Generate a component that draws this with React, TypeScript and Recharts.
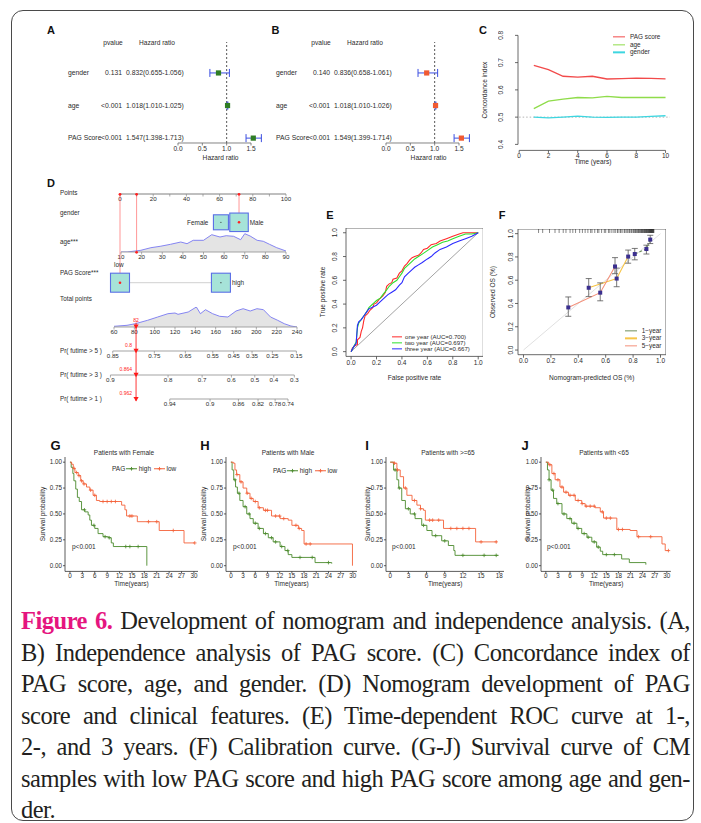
import React from "react";
import {
  ComposedChart,
  Line,
  Scatter,
  Area,
  XAxis,
  YAxis,
  ReferenceLine,
  ReferenceArea,
  ErrorBar,
} from "recharts";

const SANS = '"Liberation Sans", Arial, Helvetica, sans-serif';
const SERIF = '"Liberation Serif", "Times New Roman", Times, serif';
const INK = "#2b2b2b";
const FS = 6.5;

// ---------------- A / B : forest plots ----------------
const forestVars = ["gender", "age", "PAG Score"];
const forestRows = [3, 2, 1];
const hrTicks = [0, 0.5, 1, 1.5];
const aP = ["0.131", "<0.001", "<0.001"];
const aHR = [0.832, 1.018, 1.547];
const aLo = [0.655, 1.01, 1.398];
const aHi = [1.056, 1.025, 1.713];
const bP = ["0.140", "<0.001", "<0.001"];
const bHR = [0.836, 1.018, 1.549];
const bLo = [0.658, 1.01, 1.399];
const bHi = [1.061, 1.026, 1.714];

// ---------------- C : concordance index ----------------
const cYears = [1, 2, 3, 4, 5, 6, 7, 8, 9, 10];
const cPag = [0.69, 0.674, 0.65, 0.647, 0.65, 0.64, 0.641, 0.643, 0.642, 0.64];
const cAge = [0.531, 0.559, 0.566, 0.572, 0.571, 0.576, 0.572, 0.572, 0.572, 0.572];
const cGender = [0.5, 0.497, 0.5, 0.504, 0.5, 0.499, 0.5, 0.5, 0.503, 0.505];
const cNames = ["PAG score", "age", "gender"];
const cColors = ["#f24a4a", "#8fdc4a", "#3ed6e0"];
const cXTicks = [0, 2, 4, 6, 8, 10];
const cYTicks = [0.4, 0.5, 0.6, 0.7, 0.8];

// ---------------- D : nomogram ----------------
const pointsTicks = [0, 10, 20, 30, 40, 50, 60, 70, 80, 90, 100];
const ageTicks = [10, 20, 30, 40, 50, 60, 70, 80, 90];
const totalTicks = [60, 80, 100, 120, 140, 160, 180, 200, 220, 240];
const genderLevels = ["Female", "Male"];
const genderPoints = [60.8, 71.7];
const pagLevels = ["low", "high"];
const pagPoints = [0, 60.8];
const ageDensX = [10, 13, 19.6, 24.5, 29, 34, 39, 42, 45, 50, 54, 58, 61, 64.6, 68, 70, 72.6, 76, 79, 82, 85.5, 90];
const ageDensY = [0, 0, 1.7, 4.3, 5.7, 7.7, 10, 8.3, 11.7, 11.7, 17.3, 15, 16.3, 15.7, 12.3, 18.3, 16, 11.7, 10.7, 7.7, 4.3, 1];
const totDensX = [60, 72.8, 81, 93, 103, 113, 120, 123, 133, 141, 145, 150, 157, 164, 172, 180, 187, 194, 200.6, 207, 214, 221, 227.5, 234, 240];
const totDensY = [0.7, 1.7, 3.3, 6.7, 10, 13.3, 14, 12.7, 15, 20, 13.3, 17.3, 13.3, 10.7, 10, 16, 18.3, 16, 18.3, 17.3, 10, 6.7, 3.3, 1, 0];
const pr5Labels = ["0.85", "0.75", "0.65", "0.55", "0.45", "0.35", "0.25", "0.15"];
const pr5Pos = [58.7, 99.6, 130.1, 157.1, 177.7, 195.7, 215.7, 239.3];
const pr3Labels = ["0.9", "0.8", "0.7", "0.6", "0.5", "0.4", "0.3"];
const pr3Pos = [56.4, 113.1, 146.6, 175.4, 198.4, 217.1, 237.3];
const pr1Labels = ["0.94", "0.9", "0.86", "0.82", "0.78", "0.74"];
const pr1Pos = [114.8, 154.4, 182.3, 201.6, 218.4, 231.1];
const patientPag = "low";
const patientAge = 18;
const patientGender = "Male";
const patientPred = ["0.8", "0.864", "0.962"];

// ---------------- E : ROC ----------------
const rocOne = [[0,0],[0.01,0.03],[0.03,0.05],[0.05,0.06],[0.05,0.1],[0.07,0.12],[0.08,0.17],[0.09,0.2],[0.1,0.26],[0.11,0.3],[0.13,0.32],[0.15,0.35],[0.17,0.37],[0.18,0.4],[0.2,0.41],[0.22,0.44],[0.25,0.47],[0.27,0.5],[0.28,0.55],[0.3,0.57],[0.32,0.58],[0.33,0.61],[0.36,0.62],[0.38,0.66],[0.4,0.68],[0.42,0.72],[0.44,0.74],[0.46,0.77],[0.48,0.79],[0.5,0.8],[0.53,0.81],[0.55,0.83],[0.57,0.86],[0.6,0.87],[0.63,0.9],[0.67,0.91],[0.7,0.93],[0.75,0.95],[0.8,0.97],[0.85,0.99],[0.88,1],[1,1]];
const rocTwo = [[0,0],[0.02,0.04],[0.04,0.08],[0.05,0.2],[0.06,0.24],[0.08,0.27],[0.1,0.3],[0.12,0.33],[0.14,0.37],[0.16,0.39],[0.18,0.41],[0.2,0.43],[0.23,0.45],[0.25,0.48],[0.28,0.52],[0.3,0.55],[0.33,0.58],[0.36,0.6],[0.38,0.63],[0.4,0.66],[0.42,0.7],[0.45,0.73],[0.48,0.76],[0.5,0.78],[0.53,0.8],[0.56,0.82],[0.6,0.85],[0.64,0.88],[0.68,0.9],[0.72,0.92],[0.76,0.93],[0.8,0.95],[0.85,0.97],[0.9,0.99],[0.95,0.99],[1,1]];
const rocThree = [[0,0],[0.02,0.04],[0.04,0.07],[0.05,0.22],[0.06,0.25],[0.08,0.27],[0.1,0.3],[0.12,0.33],[0.14,0.36],[0.16,0.37],[0.18,0.38],[0.2,0.39],[0.23,0.42],[0.26,0.45],[0.29,0.48],[0.32,0.5],[0.35,0.52],[0.38,0.56],[0.4,0.58],[0.42,0.63],[0.45,0.66],[0.48,0.69],[0.5,0.71],[0.53,0.73],[0.56,0.75],[0.6,0.78],[0.63,0.8],[0.66,0.83],[0.7,0.86],[0.75,0.88],[0.8,0.91],[0.85,0.93],[0.9,0.95],[0.95,0.97],[1,1]];
const rocNames = ["one year", "two year", "three year"];
const rocAuc = [0.7, 0.697, 0.667];
const rocColors = ["#ff2a2a", "#2fe02f", "#2a2aff"];
const unitTicks = [0, 0.2, 0.4, 0.6, 0.8, 1];

// ---------------- F : calibration ----------------
const calNames = ["1\u2212year", "3\u2212year", "5\u2212year"];
const calColors = ["#6f8f5c", "#f7c548", "#f4907a"];
const cal1Pred = [0.812, 0.897, 0.925];
const cal1Obs = [0.825, 0.868, 0.949];
const cal1Lo = [0.775, 0.825, 0.915];
const cal1Hi = [0.873, 0.901, 0.986];
const cal3Pred = [0.476, 0.68, 0.764];
const cal3Obs = [0.535, 0.614, 0.803];
const cal3Lo = [0.459, 0.544, 0.746];
const cal3Hi = [0.614, 0.704, 0.859];
const cal5Pred = [0.327, 0.56, 0.668];
const cal5Obs = [0.366, 0.493, 0.718];
const cal5Lo = [0.29, 0.423, 0.656];
const cal5Hi = [0.456, 0.577, 0.794];
const calRug = [0.11, 0.14, 0.19, 0.23, 0.26, 0.29, 0.31, 0.34, 0.36, 0.38, 0.41, 0.43, 0.45, 0.47, 0.49, 0.5, 0.52, 0.54, 0.55, 0.57, 0.59, 0.6, 0.62, 0.63, 0.645, 0.66, 0.67, 0.685, 0.69, 0.705, 0.71, 0.72, 0.735, 0.74, 0.75, 0.76, 0.77, 0.775, 0.785, 0.79, 0.8, 0.805, 0.812, 0.818, 0.823, 0.83, 0.836, 0.84, 0.846, 0.852, 0.857, 0.861, 0.866, 0.87, 0.874, 0.879, 0.883, 0.887, 0.891, 0.895, 0.898, 0.902, 0.906, 0.909, 0.913, 0.916, 0.919, 0.922, 0.925, 0.928, 0.93, 0.933, 0.936, 0.938, 0.94, 0.943, 0.946, 0.949, 0.952];

// ---------------- G-J : Kaplan-Meier ----------------
const kmGroups = ["high", "low"];
const KM_GREEN = "#4b8a2c";
const KM_RED = "#f4623a";
const kmTicks30 = [0, 3, 6, 9, 12, 15, 18, 21, 24, 27, 30];
const kmTicks18 = [0, 3, 6, 9, 12, 15, 18];
const kmYTicks = [0, 0.25, 0.5, 0.75, 1];
const gHighT = [0, 0.3, 0.7, 0.95, 1.4, 1.8, 2.25, 2.8, 3.6, 4.4, 4.8, 5.2, 6, 6.8, 8, 9.3, 10, 10.5, 18.6];
const gHighS = [1, 0.95, 0.89, 0.82, 0.74, 0.66, 0.62, 0.54, 0.52, 0.49, 0.44, 0.39, 0.36, 0.31, 0.28, 0.27, 0.22, 0.185, 0];
const gLowT = [0, 0.4, 0.8, 1.2, 2, 2.6, 3.2, 4, 4.8, 5.6, 6.4, 7.2, 12.5, 13.3, 13.7, 16.3, 21.6, 27.6, 30.2];
const gLowS = [1, 0.98, 0.94, 0.9, 0.87, 0.82, 0.79, 0.76, 0.73, 0.68, 0.63, 0.62, 0.585, 0.54, 0.48, 0.425, 0.34, 0.22, 0.22];
const gHighC = [3.5, 5.8, 8.5, 9.5, 13.5, 14.5, 16.5];
const gLowC = [1, 1.6, 2.2, 2.8, 3.4, 5, 6, 8, 9, 10, 11, 14.5, 15, 19, 21, 25, 30.2];
const hHighT = [0, 0.3, 0.7, 1.15, 1.6, 2.2, 3, 3.9, 4.7, 5.5, 6.7, 8, 9.2, 10.4, 12.1, 13.3, 14.1, 15, 20.7, 24.8];
const hHighS = [1, 0.925, 0.83, 0.76, 0.7, 0.63, 0.57, 0.5, 0.455, 0.41, 0.36, 0.31, 0.27, 0.23, 0.185, 0.146, 0.107, 0.08, 0.03, 0.02];
const hLowT = [0, 0.6, 1, 1.4, 2.2, 3, 3.9, 4.7, 5.5, 6.7, 8, 10, 12.1, 14.1, 15, 16.6, 17.4, 18, 29.9];
const hLowS = [1, 0.99, 0.925, 0.88, 0.81, 0.75, 0.7, 0.65, 0.62, 0.56, 0.535, 0.48, 0.455, 0.44, 0.39, 0.36, 0.34, 0.21, 0];
const hHighC = [1, 2, 3.5, 4.5, 6, 7, 8.5, 10, 11, 12.5, 14, 17, 20, 24];
const hLowC = [1.5, 2.5, 4, 5, 6, 7, 8.5, 9, 11, 12, 13, 16, 16.8, 18.5, 19.5];
const iHighT = [0, 0.55, 1.1, 1.4, 1.9, 2.5, 3.3, 4.1, 5.2, 6.05, 6.9, 8.5, 9.6, 10.5, 10.7, 17.9];
const iHighS = [1, 0.925, 0.83, 0.75, 0.63, 0.55, 0.5, 0.455, 0.39, 0.34, 0.29, 0.24, 0.195, 0.146, 0.1, 0.1];
const iLowT = [0, 0.6, 1.1, 1.65, 2.2, 2.75, 3.6, 4.4, 5, 5.5, 5.8, 8.8, 14.1, 17.6];
const iLowS = [1, 0.99, 0.925, 0.86, 0.75, 0.68, 0.63, 0.585, 0.55, 0.535, 0.44, 0.36, 0.23, 0.23];
const iHighC = [0.8, 1.5, 3, 4, 5.5, 7.5, 9, 12, 15.5, 17.5];
const iLowC = [0.7, 1.2, 2.5, 4, 5, 6.5, 7, 8, 10, 11, 12, 13, 15, 17.5];
const jHighT = [0, 0.4, 0.8, 1.3, 1.9, 2.7, 4, 5.2, 6.4, 7.7, 8.9, 10.2, 11.4, 12.6, 13.5, 14.1, 18.8, 20.7, 24.8];
const jHighS = [1, 0.925, 0.83, 0.73, 0.65, 0.6, 0.5, 0.455, 0.41, 0.36, 0.31, 0.275, 0.23, 0.18, 0.14, 0.107, 0.065, 0.03, 0.01];
const jLowT = [0, 0.7, 1.5, 2.3, 3.5, 4.4, 5.6, 7.3, 8.9, 9.75, 12.2, 13.5, 14.3, 17.6, 20.9, 22.6, 28.8, 29.6, 30.4];
const jLowS = [1, 0.975, 0.89, 0.83, 0.76, 0.71, 0.68, 0.63, 0.6, 0.575, 0.56, 0.52, 0.46, 0.35, 0.34, 0.28, 0.21, 0.146, 0.146];
const jHighC = [0.8, 1.7, 3, 4.5, 6, 7, 8, 9.5, 10.5, 12, 13, 15, 17];
const jLowC = [1, 2, 3, 4, 5, 6, 7, 8, 9, 10, 11, 12, 14, 15, 16, 18, 19, 23, 26, 30.4];

// ---------------- caption ----------------
const captionLines = [
  " Development of nomogram and independence analysis. (A,",
  "B) Independence analysis of PAG score. (C) Concordance index of",
  "PAG score, age, and gender. (D) Nomogram development of PAG",
  "score and clinical features. (E) Time-dependent ROC curve at 1-,",
  "2-, and 3 years. (F) Calibration curve. (G-J) Survival curve of CM",
  "samples with low PAG score and high PAG score among age and gen-",
  "der.",
];

// ================= helpers =================
function T(props: any) {
  const { x, y, s = FS, a = "start", c = INK, r = false, w = 400, f = SANS, children } = props;
  const tx = a === "middle" ? "-50%" : a === "end" ? "-100%" : "0%";
  return (
    <div
      style={{
        position: "absolute",
        left: x,
        top: y,
        transform: r ? "translate(-50%,-50%) rotate(-90deg)" : `translate(${tx},-50%)`,
        fontSize: s,
        color: c,
        fontWeight: w,
        fontFamily: f,
        whiteSpace: "nowrap",
        lineHeight: 1,
      }}
    >
      {children}
    </div>
  );
}

function Holder(props: any) {
  const { px, py, pw, ph, yw = 0, xh = 0, mr = 0, mt = 0, children } = props;
  return (
    <div style={{ position: "absolute", left: px - yw, top: py - mt }}>
      {children(yw + pw + mr, mt + ph + xh, { top: mt, right: mr, bottom: 0, left: 0 })}
    </div>
  );
}

function rotTick(off: number, fmt: (v: number) => string) {
  return (props: any) => {
    const { x, y, payload } = props;
    const cx = x - off;
    return (
      <text x={cx} y={y} dy="0.35em" textAnchor="middle" transform={`rotate(-90 ${cx} ${y})`} fontSize={FS} fill={INK} fontFamily={SANS}>
        {fmt(payload.value)}
      </text>
    );
  };
}

const tickStyle = { fontSize: FS, fill: INK, fontFamily: SANS };

// ================= A / B =================
const HR_PX = 48.67;
const HR_MAX = 1.75;

function Forest(props: any) {
  const { left, p, hr, lo, hi, color } = props;
  const rows = forestRows.map((y, i) => ({ x: hr[i], y, err: [hr[i] - lo[i], hi[i] - hr[i]] }));
  const hrText = forestRows.map((_, i) => `${hr[i].toFixed(3)}(${lo[i].toFixed(3)}-${hi[i].toFixed(3)})`);
  const pw = HR_MAX * HR_PX;
  const Tick = (tp: any) => {
    const { x, y, payload } = tp;
    const i = forestRows.indexOf(payload.value);
    return (
      <g fontFamily={SANS} fontSize={6.8} fill={INK}>
        <text x={x - 110} y={y} dy="0.35em">{forestVars[i]}</text>
        <text x={x - 56} y={y} dy="0.35em" textAnchor="end">{p[i]}</text>
        <text x={x - 52} y={y} dy="0.35em">{hrText[i]}</text>
      </g>
    );
  };
  const Square = (sp: any) => <rect x={sp.cx - 2.6} y={sp.cy - 2.6} width={5.2} height={5.2} fill={color} />;
  return (
    <>
      <T x={left - 65} y={43} a="middle" s={6.6}>pvalue</T>
      <T x={left - 21} y={43} a="middle" s={6.6}>Hazard ratio</T>
      <T x={left + pw / 2} y={158} a="middle" s={6.6}>Hazard ratio</T>
      <Holder px={left} py={42} pw={pw} ph={101} yw={118} xh={16} mr={4}>
        {(w: number, h: number, m: any) => (
          <ComposedChart width={w} height={h} margin={m}>
            <XAxis type="number" dataKey="x" domain={[0, HR_MAX]} ticks={hrTicks} interval={0} allowDataOverflow axisLine={false} tickSize={2.5} tickMargin={0.5} tickLine={{ stroke: "#666", strokeWidth: 0.8 }} tick={{ ...tickStyle, fontSize: 6.6 }} tickFormatter={(v: number) => v.toFixed(1)} height={16} />
            <YAxis type="number" dataKey="y" domain={[0.85, 3.95]} ticks={forestRows} interval={0} allowDataOverflow axisLine={false} tickLine={false} tickSize={0} tickMargin={0} width={118} tick={Tick} />
            <ReferenceLine x={1} stroke="#444" strokeDasharray="2 2" strokeWidth={0.9} />
            <ReferenceLine segment={[{ x: 0, y: 0.85 }, { x: 1.5, y: 0.85 }]} stroke="#666" strokeWidth={0.8} ifOverflow="visible" />
            <Scatter data={rows} shape={Square} isAnimationActive={false}>
              <ErrorBar dataKey="err" direction="x" width={4} stroke="#3a4de0" strokeWidth={1} />
            </Scatter>
          </ComposedChart>
        )}
      </Holder>
    </>
  );
}

// ================= C =================
function PanelC() {
  const data = cYears.map((t, i) => ({ t, pag: cPag[i], age: cAge[i], gender: cGender[i] }));
  const keys = ["pag", "age", "gender"];
  return (
    <>
      <T x={485} y={90} r s={6.6}>Concordance index</T>
      <T x={593} y={162} a="middle" s={6.6}>Time (years)</T>
      {cNames.map((n, i) => (
        <React.Fragment key={n}>
          <div style={{ position: "absolute", left: 613, top: 36.7 + i * 7.8, width: 12, height: 1.3, background: cColors[i], transform: "translateY(-50%)" }} />
          <T x={630} y={36.7 + i * 7.8} s={6.4}>{n}</T>
        </React.Fragment>
      ))}
      <Holder px={518.1} py={30.6} pw={153.4} ph={119.4} yw={20} xh={14}>
        {(w: number, h: number, m: any) => (
          <ComposedChart width={w} height={h} margin={m} data={data}>
            <XAxis type="number" dataKey="t" domain={[-0.08, 10.4]} ticks={cXTicks} interval={0} allowDataOverflow axisLine={false} tickSize={2.5} tickMargin={0} tickLine={{ stroke: "#444", strokeWidth: 0.8 }} tick={tickStyle} height={14} />
            <YAxis type="number" domain={[0.378, 0.816]} ticks={cYTicks} interval={0} allowDataOverflow axisLine={false} tickSize={3} tickMargin={0} tickLine={{ stroke: "#444", strokeWidth: 0.8 }} width={20} tick={rotTick(14, (v) => v.toFixed(1))} />
            <ReferenceLine segment={[{ x: 0, y: 0.378 }, { x: 10, y: 0.378 }]} stroke="#444" strokeWidth={0.8} ifOverflow="visible" />
            <ReferenceLine segment={[{ x: -0.08, y: 0.4 }, { x: -0.08, y: 0.8 }]} stroke="#444" strokeWidth={0.8} ifOverflow="visible" />
            <ReferenceLine segment={[{ x: 0, y: 0.5 }, { x: 10.3, y: 0.5 }]} stroke="#aaa" strokeDasharray="1.5 2" strokeWidth={0.9} ifOverflow="visible" />
            {keys.map((k, i) => (
              <Line key={k} dataKey={k} stroke={cColors[i]} strokeWidth={1.3} dot={false} type="linear" isAnimationActive={false} />
            ))}
          </ComposedChart>
        )}
      </Holder>
    </>
  );
}

// ================= D =================
const ROW = { points: 194.3, gender: 222.3, age: 252.3, pag: 282.7, total: 326.7, pr5: 351, pr3: 375, pr1: 399.3 };
const PTS_PX = [120, 286];
const TOT_K = (297 - 114) / 180;

function NomoAxis(props: any) {
  const { dom, px, axisY, ticks, fmt, dens, lineFrom, lineTo, lineW = 0.9, lineC = "#999" } = props;
  const densH = dens ? 20 : 2;
  const ml = 14, mr = 14;
  const data = dens || [{ v: dom[0] }, { v: dom[1] }];
  const w = px[1] - px[0];
  return (
    <div style={{ position: "absolute", left: px[0] - ml, top: axisY - densH }}>
      <ComposedChart width={w + ml + mr} height={densH + 14} data={data} margin={{ top: 0, right: mr, bottom: 0, left: ml }}>
        <XAxis type="number" dataKey="v" domain={dom} ticks={ticks} interval={0} allowDataOverflow tickFormatter={fmt} axisLine={false} tickSize={2.5} tickMargin={0.5} tickLine={{ stroke: "#888", strokeWidth: 0.7 }} tick={{ ...tickStyle, fontSize: 6.2 }} height={14} />
        <YAxis type="number" hide domain={[0, 20]} allowDataOverflow />
        {dens && <Area dataKey="d" type="linear" stroke="#7878f2" strokeWidth={0.9} fill="#e4e4e4" fillOpacity={1} isAnimationActive={false} />}
        <ReferenceLine segment={[{ x: lineFrom, y: 0 }, { x: lineTo, y: 0 }]} stroke={lineC} strokeWidth={lineW} ifOverflow="visible" />
      </ComposedChart>
    </div>
  );
}

const NomoBox = (p: any) => {
  const { cx, cy, payload } = p;
  const s = payload.size;
  let lx = cx, ly = cy, anchor = "middle";
  if (payload.side === "left") { lx = cx - s / 2 - 5; anchor = "end"; }
  if (payload.side === "right") { lx = cx + s / 2 + 1.5; anchor = "start"; }
  if (payload.side === "top") { lx = cx - 6; ly = cy - 18.4; anchor = "start"; }
  return (
    <g>
      <rect x={cx - s / 2} y={cy - s / 2} width={s} height={s} fill="#a6e3d8" stroke="#5a6fe6" strokeWidth={1.1} />
      <circle cx={cx} cy={cy} r={payload.sel ? 1.3 : 0.6} fill={payload.sel ? "#ff2020" : "#333"} />
      <text x={lx} y={ly} dy="0.35em" textAnchor={anchor} fontSize={6.4} fill={INK} fontFamily={SANS}>{payload.label}</text>
    </g>
  );
};

const RedDot = (p: any) => <circle cx={p.cx} cy={p.cy} r={1.4} fill="#ff2020" />;
const RedTri = (p: any) => (
  <g>
    <path d={`M${p.cx - 2.6},${p.cy - 2.2}L${p.cx + 2.6},${p.cy - 2.2}L${p.cx},${p.cy + 2.2}Z`} fill="#ff1a1a" />
    {p.payload.label && (
      <text x={p.payload.side === "top" ? p.cx : p.cx - 4} y={p.payload.side === "top" ? p.cy - 5 : p.cy - 4.3} textAnchor={p.payload.side === "top" ? "middle" : "end"} fontSize={5} fill="#ff2020" fontFamily={SANS}>
        {p.payload.label}
      </text>
    )}
  </g>
);

function Nomogram() {
  const agePts = ((patientAge - 10) / 80) * 100;
  const gPts = genderPoints[genderLevels.indexOf(patientGender)];
  const pPts = pagPoints[pagLevels.indexOf(patientPag)];
  const total = agePts + gPts + pPts;
  const ageDens = ageDensX.map((v, i) => ({ v, d: ageDensY[i] }));
  const totDens = totDensX.map((v, i) => ({ v, d: totDensY[i] }));
  const totPx = (t: number) => 114 + (t - 60) * TOT_K;
  const probDom = [55, 245];
  const probPx = [totPx(55), totPx(245)];
  const boxes = [
    { x: genderPoints[0], y: ROW.gender, size: 15, label: genderLevels[0], side: "left", sel: patientGender === genderLevels[0] },
    { x: genderPoints[1], y: ROW.gender, size: 18.5, label: genderLevels[1], side: "right", sel: patientGender === genderLevels[1] },
    { x: pagPoints[0], y: ROW.pag, size: 19, label: pagLevels[0], side: "top", sel: patientPag === pagLevels[0] },
    { x: pagPoints[1], y: ROW.pag, size: 19, label: pagLevels[1], side: "right", sel: patientPag === pagLevels[1] },
  ];
  const topDots = [pPts, agePts, gPts].map((x) => ({ x, y: ROW.points })).concat([{ x: agePts, y: ROW.age }]);
  const tris = [
    { x: total, y: ROW.total, label: String(Math.round(total)), side: "top" },
    { x: total, y: ROW.pr5, label: patientPred[0] },
    { x: total, y: ROW.pr3, label: patientPred[1] },
    { x: total, y: ROW.pr1, label: patientPred[2] },
  ];
  const rowNames = [
    ["Points", ROW.points - 1],
    ["gender", ROW.gender - 9.5],
    ["age***", ROW.age - 10.5],
    ["PAG Score***", ROW.pag - 9.5],
    ["Total points", ROW.total - 27.5],
    ["Pr( futime > 5 )", ROW.pr5],
    ["Pr( futime > 3 )", ROW.pr3],
    ["Pr( futime > 1 )", ROW.pr1],
  ];
  const OV = 24;
  return (
    <>
      {rowNames.map(([n, y]) => (
        <T key={n as string} x={60} y={y} s={6.3}>{n}</T>
      ))}
      <NomoAxis dom={[0, 100]} px={PTS_PX} axisY={ROW.points} ticks={pointsTicks} fmt={(v: number) => (v % 20 === 0 ? String(v) : "")} lineFrom={0} lineTo={100} lineW={1.6} lineC="#aaa" />
      <NomoAxis dom={[10, 90]} px={[121, 286]} axisY={ROW.age} ticks={ageTicks} dens={ageDens} lineFrom={10} lineTo={90} />
      <NomoAxis dom={[60, 240]} px={[114, 297]} axisY={ROW.total} ticks={totalTicks} dens={totDens} lineFrom={60} lineTo={240} />
      <NomoAxis dom={probDom} px={probPx} axisY={ROW.pr5} ticks={pr5Pos} fmt={(v: number) => pr5Labels[pr5Pos.indexOf(v)]} lineFrom={pr5Pos[0]} lineTo={pr5Pos[pr5Pos.length - 1]} />
      <NomoAxis dom={probDom} px={probPx} axisY={ROW.pr3} ticks={pr3Pos} fmt={(v: number) => pr3Labels[pr3Pos.indexOf(v)]} lineFrom={pr3Pos[0]} lineTo={pr3Pos[pr3Pos.length - 1]} />
      <NomoAxis dom={probDom} px={probPx} axisY={ROW.pr1} ticks={pr1Pos} fmt={(v: number) => pr1Labels[pr1Pos.indexOf(v)]} lineFrom={pr1Pos[0]} lineTo={pr1Pos[pr1Pos.length - 1]} />
      {/* upper overlay on the points scale */}
      <div style={{ position: "absolute", left: PTS_PX[0] - OV, top: 180 }}>
        <ComposedChart width={PTS_PX[1] - PTS_PX[0] + 2 * OV} height={120} margin={{ top: 0, right: OV, bottom: 0, left: OV }}>
          <XAxis type="number" dataKey="x" hide domain={[0, 100]} />
          <YAxis type="number" dataKey="y" hide domain={[180, 300]} reversed />
          <ReferenceLine segment={[{ x: genderPoints[0], y: ROW.gender }, { x: genderPoints[1], y: ROW.gender }]} stroke="#bbb" strokeWidth={0.7} ifOverflow="visible" />
          <ReferenceLine segment={[{ x: pagPoints[0], y: ROW.pag }, { x: pagPoints[1], y: ROW.pag }]} stroke="#bbb" strokeWidth={0.7} ifOverflow="visible" />
          <ReferenceLine segment={[{ x: pPts, y: ROW.points }, { x: pPts, y: ROW.pag }]} stroke="#ff5050" strokeWidth={0.6} ifOverflow="visible" />
          <ReferenceLine segment={[{ x: agePts, y: ROW.points }, { x: agePts, y: ROW.age }]} stroke="#ff5050" strokeWidth={0.6} ifOverflow="visible" />
          <ReferenceLine segment={[{ x: gPts, y: ROW.points }, { x: gPts, y: ROW.gender }]} stroke="#ff5050" strokeWidth={0.6} ifOverflow="visible" />
          <Scatter data={boxes} shape={NomoBox} isAnimationActive={false} />
          <Scatter data={topDots} shape={RedDot} isAnimationActive={false} />
        </ComposedChart>
      </div>
      {/* lower overlay on the total-points scale */}
      <div style={{ position: "absolute", left: 114 - OV, top: 310 }}>
        <ComposedChart width={183 + 2 * OV} height={100} margin={{ top: 0, right: OV, bottom: 0, left: OV }}>
          <XAxis type="number" dataKey="x" hide domain={[60, 240]} />
          <YAxis type="number" dataKey="y" hide domain={[310, 410]} reversed />
          <ReferenceLine segment={[{ x: total, y: ROW.total - 4 }, { x: total, y: ROW.pr1 + 1.5 }]} stroke="#ff2020" strokeWidth={0.9} ifOverflow="visible" />
          <Scatter data={tris} shape={RedTri} isAnimationActive={false} />
        </ComposedChart>
      </div>
    </>
  );
}

// ================= E =================
function PanelE() {
  const sets = [rocOne, rocTwo, rocThree].map((s) => s.map(([x, y]) => ({ x, y })));
  const diag = [{ x: 0, y: 0 }, { x: 1, y: 1 }];
  return (
    <>
      <T x={323.3} y={292} r s={6.6}>True positive rate</T>
      <T x={414.5} y={378.3} a="middle" s={6.6}>False positive rate</T>
      {rocNames.map((n, i) => (
        <React.Fragment key={n}>
          <div style={{ position: "absolute", left: 391.7, top: 336.7 + i * 5.9, width: 10, height: 1.3, background: rocColors[i], transform: "translateY(-50%)" }} />
          <T x={405} y={336.7 + i * 5.9} s={6.1}>{`${n} (AUC=${rocAuc[i].toFixed(3)})`}</T>
        </React.Fragment>
      ))}
      <Holder px={346} py={228.3} pw={137.3} ph={128.4} yw={16} xh={14}>
        {(w: number, h: number, m: any) => (
          <ComposedChart width={w} height={h} margin={m}>
            <XAxis type="number" dataKey="x" domain={[-0.04, 1.04]} ticks={unitTicks} interval={0} allowDataOverflow axisLine={false} tickSize={3} tickMargin={0.5} tickLine={{ stroke: "#444", strokeWidth: 0.8 }} tick={tickStyle} tickFormatter={(v: number) => v.toFixed(1)} height={14} />
            <YAxis type="number" dataKey="y" domain={[-0.04, 1.04]} ticks={unitTicks} interval={0} allowDataOverflow axisLine={false} tickSize={3} tickMargin={0} tickLine={{ stroke: "#444", strokeWidth: 0.8 }} width={16} tick={rotTick(8, (v) => v.toFixed(1))} />
            <ReferenceArea x1={-0.04} x2={1.04} y1={-0.04} y2={1.04} fill="none" stroke="#444" strokeWidth={0.8} ifOverflow="visible" />
            <Line data={diag} dataKey="y" stroke="#999" strokeWidth={0.9} dot={false} isAnimationActive={false} />
            {sets.map((d, i) => (
              <Line key={i} data={d} dataKey="y" stroke={rocColors[i]} strokeWidth={1.1} dot={false} type="linear" isAnimationActive={false} />
            ))}
          </ComposedChart>
        )}
      </Holder>
    </>
  );
}

// ================= F =================
const CalSquare = (p: any) => <rect x={p.cx - 2} y={p.cy - 2} width={4} height={4} fill="#3b2f8f" />;
const RugTick = (p: any) => <line x1={p.cx} x2={p.cx} y1={p.cy} y2={p.cy + 4} stroke="#111" strokeWidth={0.5} />;

function PanelF() {
  const series = [
    [cal1Pred, cal1Obs, cal1Lo, cal1Hi],
    [cal3Pred, cal3Obs, cal3Lo, cal3Hi],
    [cal5Pred, cal5Obs, cal5Lo, cal5Hi],
  ].map(([pr, ob, lo, hi]) => pr.map((x, i) => ({ x, y: ob[i], err: [ob[i] - lo[i], hi[i] - ob[i]] })));
  const rug = calRug.map((x) => ({ x, y: 1.04 }));
  const diag = [{ x: 0, y: 0 }, { x: 1, y: 1 }];
  return (
    <>
      <T x={493.3} y={292} r s={6.6}>Observed OS (%)</T>
      <T x={591.7} y={378.3} a="middle" s={6.6}>Nomogram-predicted OS (%)</T>
      {calNames.map((n, i) => (
        <React.Fragment key={n}>
          <div style={{ position: "absolute", left: 625, top: 330.7 + i * 7.7, width: 11.7, height: 1.3, background: calColors[i], transform: "translateY(-50%)" }} />
          <T x={641.7} y={330.7 + i * 7.7} s={6.4}>{n}</T>
        </React.Fragment>
      ))}
      <Holder px={517.7} py={229.3} pw={148} ph={125.7} yw={16} xh={14}>
        {(w: number, h: number, m: any) => (
          <ComposedChart width={w} height={h} margin={m}>
            <XAxis type="number" dataKey="x" domain={[-0.04, 1.04]} ticks={unitTicks} interval={0} allowDataOverflow axisLine={false} tickSize={3} tickMargin={0.5} tickLine={{ stroke: "#444", strokeWidth: 0.8 }} tick={tickStyle} tickFormatter={(v: number) => v.toFixed(1)} height={14} />
            <YAxis type="number" dataKey="y" domain={[-0.04, 1.04]} ticks={unitTicks} interval={0} allowDataOverflow axisLine={false} tickSize={3} tickMargin={0} tickLine={{ stroke: "#444", strokeWidth: 0.8 }} width={16} tick={rotTick(4.7, (v) => v.toFixed(1))} />
            <ReferenceArea x1={-0.04} x2={1.04} y1={-0.04} y2={1.04} fill="none" stroke="#444" strokeWidth={0.8} ifOverflow="visible" />
            <Line data={diag} dataKey="y" stroke="#ddd" strokeWidth={0.9} dot={false} isAnimationActive={false} />
            <Scatter data={rug} shape={RugTick} isAnimationActive={false} />
            {series.map((d, i) => (
              <Line key={"l" + i} data={d} dataKey="y" stroke={calColors[i]} strokeWidth={1.1} strokeDasharray={i === 0 ? "3 2" : undefined} dot={false} type="linear" isAnimationActive={false} />
            ))}
            {series.map((d, i) => (
              <Scatter key={"s" + i} data={d} shape={CalSquare} isAnimationActive={false}>
                <ErrorBar dataKey="err" direction="y" width={3} stroke="#555" strokeWidth={0.8} />
              </Scatter>
            ))}
          </ComposedChart>
        )}
      </Holder>
    </>
  );
}

// ================= G-J =================
function stepAt(ts: number[], ss: number[], t: number) {
  let v = ss[0];
  for (let i = 0; i < ts.length; i++) if (ts[i] <= t) v = ss[i];
  return v;
}
const plusShape = (color: string) => (p: any) => (
  <path d={`M${p.cx - 1.8},${p.cy}h3.6M${p.cx},${p.cy - 1.8}v3.6`} stroke={color} strokeWidth={0.8} />
);

const KM_PY = 456.8;
const KM_PH = 114.4;

function KM(props: any) {
  const { px, k, dom, ticks, title, titleX, yTitleX, pX, highT, highS, lowT, lowS, highC, lowC, legend } = props;
  const pw = (dom[1] - dom[0]) * k;
  const hi = highT.map((t: number, i: number) => ({ t, s: highS[i] }));
  const lo = lowT.map((t: number, i: number) => ({ t, s: lowS[i] }));
  const hc = highC.map((t: number) => ({ t, s: stepAt(highT, highS, t) }));
  const lc = lowC.map((t: number) => ({ t, s: stepAt(lowT, lowS, t) }));
  return (
    <>
      <T x={titleX} y={453} a="middle" s={6.5}>{title}</T>
      <T x={yTitleX} y={514} r s={6.5}>Survival probability</T>
      <T x={px + pw / 2} y={584} a="middle" s={6.5}>Time(years)</T>
      <T x={pX} y={547} s={6.5}>p&lt;0.001</T>
      {legend && (
        <div style={{ position: "absolute", left: legend[0], top: legend[1], transform: "translateY(-50%)", display: "flex", alignItems: "center", fontFamily: SANS, fontSize: 6.5, color: INK, lineHeight: 1, whiteSpace: "nowrap" }}>
          <span style={{ marginRight: 1 }}>PAG</span>
          {kmGroups.map((g, i) => (
            <span key={g} style={{ display: "flex", alignItems: "center", marginLeft: i ? 3 : 0 }}>
              <svg width={11} height={6}>
                <line x1={0} x2={11} y1={3} y2={3} stroke={i ? KM_RED : KM_GREEN} strokeWidth={1} />
                <path d="M3.7,3h3.6M5.5,1.2v3.6" stroke={i ? KM_RED : KM_GREEN} strokeWidth={0.9} />
              </svg>
              <span style={{ marginLeft: 1.5 }}>{g}</span>
            </span>
          ))}
        </div>
      )}
      <Holder px={px} py={KM_PY} pw={pw} ph={KM_PH} yw={22} xh={12}>
        {(w: number, h: number, m: any) => (
          <ComposedChart width={w} height={h} margin={m}>
            <XAxis type="number" dataKey="t" domain={dom} ticks={ticks} interval={0} allowDataOverflow axisLine={{ stroke: "#333", strokeWidth: 0.8 }} tickSize={2} tickMargin={0.5} tickLine={{ stroke: "#333", strokeWidth: 0.8 }} tick={{ ...tickStyle, fontSize: 6.3 }} height={12} />
            <YAxis type="number" dataKey="s" domain={[-0.055, 1.05]} ticks={kmYTicks} interval={0} allowDataOverflow axisLine={{ stroke: "#333", strokeWidth: 0.8 }} tickSize={2} tickMargin={1} tickLine={{ stroke: "#333", strokeWidth: 0.8 }} tick={{ ...tickStyle, fontSize: 6.3 }} tickFormatter={(v: number) => v.toFixed(2)} width={22} />
            <Line data={hi} dataKey="s" type="stepAfter" stroke={KM_GREEN} strokeWidth={0.9} dot={false} isAnimationActive={false} />
            <Line data={lo} dataKey="s" type="stepAfter" stroke={KM_RED} strokeWidth={0.9} dot={false} isAnimationActive={false} />
            <Scatter data={hc} shape={plusShape(KM_GREEN)} isAnimationActive={false} />
            <Scatter data={lc} shape={plusShape(KM_RED)} isAnimationActive={false} />
          </ComposedChart>
        )}
      </Holder>
    </>
  );
}

// ================= App =================
const panelLetters: [string, number, number, number][] = [
  ["A", 51, 30, 11], ["B", 275.5, 30, 11], ["C", 483, 30, 11], ["D", 51, 183, 11],
  ["E", 330, 215, 11], ["F", 502, 215, 11], ["G", 55.5, 445, 13], ["H", 205, 445, 13],
  ["I", 367, 445, 13], ["J", 525, 445, 13],
];

const CAP_TOP = 605;
const CAP_LH = 31.5;

export default function App() {
  return (
    <div style={{ position: "absolute", left: 0, top: 0, width: 701, height: 823, background: "#fff", overflow: "hidden" }}>
      <div style={{ position: "absolute", left: 11, top: 10, width: 683, height: 811, border: "1.5px solid #4a4a4a", borderRadius: 12, boxSizing: "border-box" }} />
      {panelLetters.map(([l, x, y, s]) => (
        <T key={l} x={x} y={y} a="middle" s={s} w={700} c="#111">{l}</T>
      ))}
      <Forest left={178} p={aP} hr={aHR} lo={aLo} hi={aHi} color="#2f7d25" />
      <Forest left={386} p={bP} hr={bHR} lo={bLo} hi={bHi} color="#f05a32" />
      <PanelC />
      <Nomogram />
      <PanelE />
      <PanelF />
      <KM px={65} k={4.133} dom={[-1.2, 31]} ticks={kmTicks30} title="Patients with Female" titleX={124} yTitleX={43} pX={72} highT={gHighT} highS={gHighS} lowT={gLowT} lowS={gLowS} highC={gHighC} lowC={gLowC} legend={[112, 469]} />
      <KM px={226.1} k={4.0667} dom={[-1.2, 31]} ticks={kmTicks30} title="Patients with Male" titleX={288} yTitleX={204} pX={233} highT={hHighT} highS={hHighS} lowT={hLowT} lowS={hLowS} highC={hHighC} lowC={hLowC} legend={[273, 470.5]} />
      <KM px={385.8} k={6.056} dom={[-0.7, 18.9]} ticks={kmTicks18} title="Patients with >=65" titleX={448} yTitleX={368} pX={392} highT={iHighT} highS={iHighS} lowT={iLowT} lowS={iLowS} highC={iHighC} lowC={iLowC} />
      <KM px={541.2} k={4.033} dom={[-1.2, 31]} ticks={kmTicks30} title="Patients with <65" titleX={604} yTitleX={528} pX={547} highT={jHighT} highS={jHighS} lowT={jLowT} lowS={jLowS} highC={jHighC} lowC={jLowC} />
      {captionLines.map((ln, i) => (
        <div
          key={i}
          style={{
            position: "absolute",
            left: 21,
            width: 669,
            top: CAP_TOP + i * CAP_LH,
            height: CAP_LH,
            lineHeight: `${CAP_LH}px`,
            fontFamily: SERIF,
            fontSize: 24.5,
            letterSpacing: -0.5,
            color: "#231f20",
            whiteSpace: "nowrap",
            textAlign: "justify",
            textAlignLast: i === captionLines.length - 1 ? "left" : "justify",
          }}
        >
          {i === 0 && <span style={{ color: "#e5157f", fontWeight: 700 }}>Figure 6.</span>}
          {ln}
        </div>
      ))}
    </div>
  );
}
